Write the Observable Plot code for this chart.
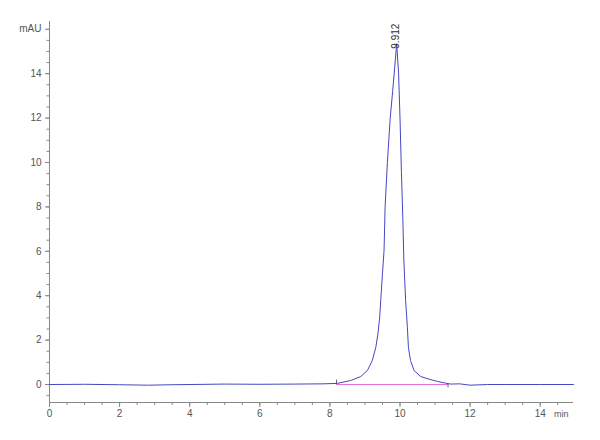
<!DOCTYPE html>
<html>
<head>
<meta charset="utf-8">
<script src="https://cdn.jsdelivr.net/npm/d3@7"></script>
<script src="https://cdn.jsdelivr.net/npm/@observablehq/plot@0.6"></script>
<style>
  body { margin: 0; background: #fff; }
  #chart svg { display: block; }
</style>
</head>
<body>
<div id="chart"></div>
<script>
// Retention time (min) and detector signal (mAU)
const times  = [0, 1, 2, 2.8, 3.5, 5, 6, 7, 7.8, 8.21, 8.59, 8.88, 9.07, 9.21, 9.31, 9.37, 9.42, 9.45, 9.50, 9.545, 9.575, 9.64, 9.72, 9.79, 9.85, 9.905, 9.96, 10.0, 10.04, 10.08, 10.11, 10.16, 10.21, 10.24, 10.30, 10.40, 10.59, 10.83, 11.07, 11.30, 11.45, 11.7, 12.0, 12.5, 13, 14, 14.95];
const signal = [0, 0.01, -0.01, -0.03, -0.01, 0.02, 0.01, 0.02, 0.03, 0.05, 0.18, 0.36, 0.63, 1.08, 1.68, 2.28, 3.03, 3.78, 5.0, 6.04, 8.0, 10.0, 12.0, 13.2, 14.3, 15.35, 14.0, 12.0, 9.6, 7.5, 5.6, 3.78, 2.58, 1.68, 1.08, 0.63, 0.36, 0.24, 0.14, 0.06, 0.02, 0.03, -0.03, 0, 0, 0, 0];

// Integration baseline (start / end of peak)
const baselineTimes = [8.19, 11.37];
const baselineValues = [0, 0];

// Peak annotation
const peakTimes = [9.912];
const peakHeights = [15.35];
const peakLabels = ["9.912"];

// Axis ticks
const xTicks = [0, 2, 4, 6, 8, 10, 12, 14];
const xMinorTicks = d3.range(0, 14.96, 0.5);
const yTicks = [0, 2, 4, 6, 8, 10, 12, 14, 16];
const yMinorTicks = d3.range(-0.5, 16.01, 0.5);
const xUnit = "min";

const trace = times.map((t, i) => ({t, v: signal[i]}));
const baseline = baselineTimes.map((t, i) => ({t, v: baselineValues[i]}));
const peaks = peakTimes.map((t, i) => ({t, v: peakHeights[i], label: peakLabels[i]}));

const chart = Plot.plot({
  width: 600,
  height: 440,
  marginLeft: 49,
  marginRight: 27,
  marginTop: 21,
  marginBottom: 38,
  x: {domain: [0, 14.95]},
  y: {domain: [-0.81, 16.35]},
  style: {fontFamily: "'Liberation Sans', Arial, sans-serif", fontSize: "10px", color: "#555", background: "#fff"},
  marks: [
    Plot.ruleX([0], {stroke: "#888"}),
    Plot.ruleY([-0.81], {stroke: "#888"}),
    Plot.axisY({ticks: yMinorTicks, tickSize: 2.5, tickFormat: () => "", label: null, stroke: "#888"}),
    Plot.axisY({ticks: yTicks, tickSize: 4, tickPadding: 4, tickFormat: d => d === 16 ? "mAU" : d, label: null, stroke: "#888", fill: "#555"}),
    Plot.axisX({ticks: xMinorTicks, tickSize: 3, tickFormat: () => "", label: null, stroke: "#888"}),
    Plot.axisX({ticks: xTicks, tickSize: 5, tickPadding: 2, label: null, stroke: "#888", fill: "#555"}),
    Plot.text([xUnit], {text: d => d, frameAnchor: "bottom-right", textAnchor: "end", lineAnchor: "top", dx: -5, dy: 8, fill: "#555", fontSize: 9}),
    Plot.line(baseline, {x: "t", y: "v", stroke: "#e070dc", strokeWidth: 1}),
    Plot.ruleX(baseline.slice(0, 1), {x: "t", y1: 0, y2: 0.2, stroke: "#666"}),
    Plot.ruleX(baseline.slice(1), {x: "t", y1: 0, y2: -0.15, stroke: "#666"}),
    Plot.line(trace, {x: "t", y: "v", stroke: "#4646c4", strokeWidth: 1, curve: "linear"}),
    Plot.text(peaks, {x: "t", y: "v", text: "label", rotate: -90, textAnchor: "start", dx: -1.5, dy: 5, fill: "#333", fontSize: 10})
  ]
});
document.getElementById("chart").append(chart);
</script>
</body>
</html>
